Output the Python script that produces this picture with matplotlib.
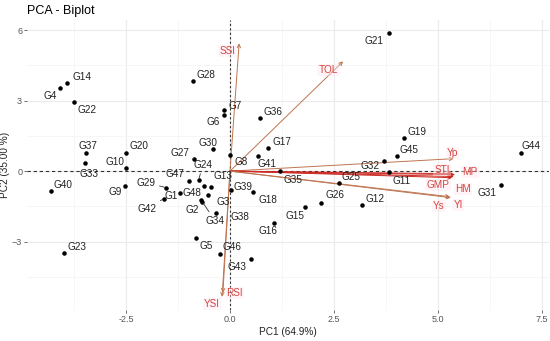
import matplotlib
matplotlib.use("Agg")
import matplotlib.pyplot as plt

plt.rcParams['font.family'] = ['Liberation Sans', 'DejaVu Sans']

# Individuals (genotype scores on PC1 / PC2)
genotypes = ['G%d' % i for i in range(1, 49)]
pc1 = [-1.20, -0.70, -0.53, -4.09, -0.82, -0.14, -0.14, 0.00, -2.52, -2.50,
       3.82, 3.17, -0.46, -3.92, 1.80, 1.06, 0.91, 0.55, 4.18, -2.50,
       3.82, -3.75, -3.99, -0.75, 2.62, 2.19, -0.87, -0.89, -1.54, -0.41,
       6.51, 3.70, -3.49, -0.67, 1.20, 0.72, -3.46, -0.34, 0.02, -4.30,
       0.67, -1.59, 0.50, 7.00, 4.01, -0.24, -0.99, -0.63]
pc2 = [-0.92, -1.22, -1.00, 3.52, -2.84, 2.37, 2.62, 0.70, -0.62, 0.15,
       -0.02, -1.43, -0.66, 3.77, -1.51, -2.20, 1.00, -0.87, 1.43, 0.79,
       5.86, 2.92, -3.48, -0.36, -0.49, -1.34, 0.53, 3.82, -0.70, 0.96,
       -0.58, 0.45, 0.36, -1.30, 0.02, 2.24, 0.75, -1.77, -0.79, -0.83,
       0.66, -1.17, -3.73, 0.75, 0.66, -3.52, -0.41, -0.62]

# Variables (loadings, arrow tips)
variables = ['SSI', 'TOL', 'Yp', 'STI', 'MP', 'GMP', 'HM', 'Ys', 'YI', 'YSI', 'RSI']
var_pc1 = [0.22, 2.72, 5.38, 5.36, 5.41, 5.34, 5.38, 5.31, 5.29, -0.19, -0.17]
var_pc2 = [5.44, 4.67, 0.53, -0.11, -0.15, -0.28, -0.23, -1.13, -1.09, -5.35, -5.18]

# label placement (pixel offsets, repel-like)
ind_offsets = {
    'G1': (-9, -3), 'G2': (-9, -10), 'G3': (15, -7), 'G4': (-10, -8), 'G5': (10, -8),
    'G6': (-11, -7), 'G7': (11, 4), 'G8': (11, -7), 'G9': (-10, -6), 'G10': (-11, 6),
    'G11': (13, -9), 'G12': (13, 6), 'G13': (12, 11), 'G14': (15, 6), 'G15': (-10, -9),
    'G16': (-6, -8), 'G17': (14, 6), 'G18': (15, -8), 'G19': (13, 6), 'G20': (13, 7),
    'G21': (-15, -8), 'G22': (13, -8), 'G23': (13, 6), 'G24': (4, 15), 'G25': (12, 6),
    'G26': (14, 8), 'G27': (-14, 6), 'G28': (13, 6), 'G29': (-20, 5), 'G30': (-5, 6),
    'G31': (-14, -8), 'G32': (-14, -5), 'G33': (4, -11), 'G34': (13, -19), 'G35': (13, -9),
    'G36': (13, 6), 'G37': (2, 7), 'G38': (24, -4), 'G39': (12, 3), 'G40': (12, 6),
    'G41': (9, -8), 'G42': (-17, -10), 'G43': (-14, -8), 'G44': (10, 7), 'G45': (12, 6),
    'G46': (12, 7), 'G47': (-14, 7), 'G48': (-12, -7),
}
with_segment = ['G24', 'G27', 'G29', 'G34', 'G42']
var_offsets = {
    'SSI': (-12, -8), 'TOL': (-15, -9), 'Yp': (-1, 6), 'STI': (-11, 4), 'MP': (15, 3),
    'GMP': (-14, -7), 'HM': (9, -12), 'Ys': (-12, -8), 'YI': (8, -8), 'YSI': (-10, -7),
    'RSI': (12, 0),
}
red_vars = ['STI', 'MP', 'GMP', 'HM']

fig = plt.figure(figsize=(5.5, 3.41), dpi=100)
ax = fig.add_axes([27 / 550, 1 - 310 / 341, 522 / 550, 290 / 341])

ax.set_xlim(-4.88, 7.67)
ax.set_ylim(-5.91, 6.43)
ax.set_xticks([-2.5, 0, 2.5, 5.0, 7.5])
ax.set_xticklabels(['-2.5', '0.0', '2.5', '5.0', '7.5'])
ax.set_yticks([-3, 0, 3, 6])
ax.set_xticks([-3.75, -1.25, 1.25, 3.75, 6.25], minor=True)
ax.set_yticks([-4.5, -1.5, 1.5, 4.5], minor=True)
ax.grid(True, which='major', color='#EBEBEB', lw=0.8)
ax.grid(True, which='minor', color='#F3F3F3', lw=0.5)
ax.set_axisbelow(True)
for s in ax.spines.values():
    s.set_visible(False)
ax.tick_params(which='major', length=2, width=0.6, color='#555555',
               labelsize=6.5, labelcolor='#555555', pad=1.5)
ax.tick_params(which='minor', length=0)

ax.axhline(0, color='#333333', lw=0.8, ls=(0, (3, 2.5)), zorder=1)
ax.axvline(0, color='#333333', lw=0.8, ls=(0, (2, 2)), zorder=1)

# individuals
ax.scatter(pc1, pc2, s=5, color='black', zorder=3)
for name, x, y in zip(genotypes, pc1, pc2):
    dx, dy = ind_offsets[name]
    if name in with_segment:
        ax.annotate(name, xy=(x, y), xytext=(dx, dy), textcoords='offset pixels',
                    ha='center', va='center', fontsize=7.2, color='#222222', zorder=4,
                    arrowprops=dict(arrowstyle='-', color='#333333', lw=0.6,
                                    shrinkA=1, shrinkB=1))
    else:
        ax.annotate(name, xy=(x, y), xytext=(dx, dy), textcoords='offset pixels',
                    ha='center', va='center', fontsize=7.2, color='#222222', zorder=4)

# variables
for name, x, y in zip(variables, var_pc1, var_pc2):
    col = '#CC2A22' if name in red_vars else '#BF7450'
    ax.annotate('', xy=(x, y), xytext=(0, 0),
                arrowprops=dict(arrowstyle='->', color=col, lw=0.7,
                                mutation_scale=6, shrinkA=0, shrinkB=0), zorder=2)
    dx, dy = var_offsets[name]
    ax.annotate(name, xy=(x, y), xytext=(dx, dy), textcoords='offset pixels',
                ha='center', va='center', fontsize=7.2, color='#D4453F', zorder=5,
                bbox=dict(boxstyle='square,pad=0.1', fc='#FFE6EE', ec='none', alpha=0.4))

ax.set_xlabel('PC1 (64.9%)', fontsize=7.2, color='#222222', labelpad=2)
ax.set_ylabel('PC2 (35.00 %)', fontsize=7.2, color='#222222')
ax.yaxis.set_label_coords(-0.033, 0.5)
fig.text(27 / 550, 1 - 14 / 341, 'PCA - Biplot', fontsize=9, color='black', va='baseline')

fig.savefig('out.png', dpi=100)
